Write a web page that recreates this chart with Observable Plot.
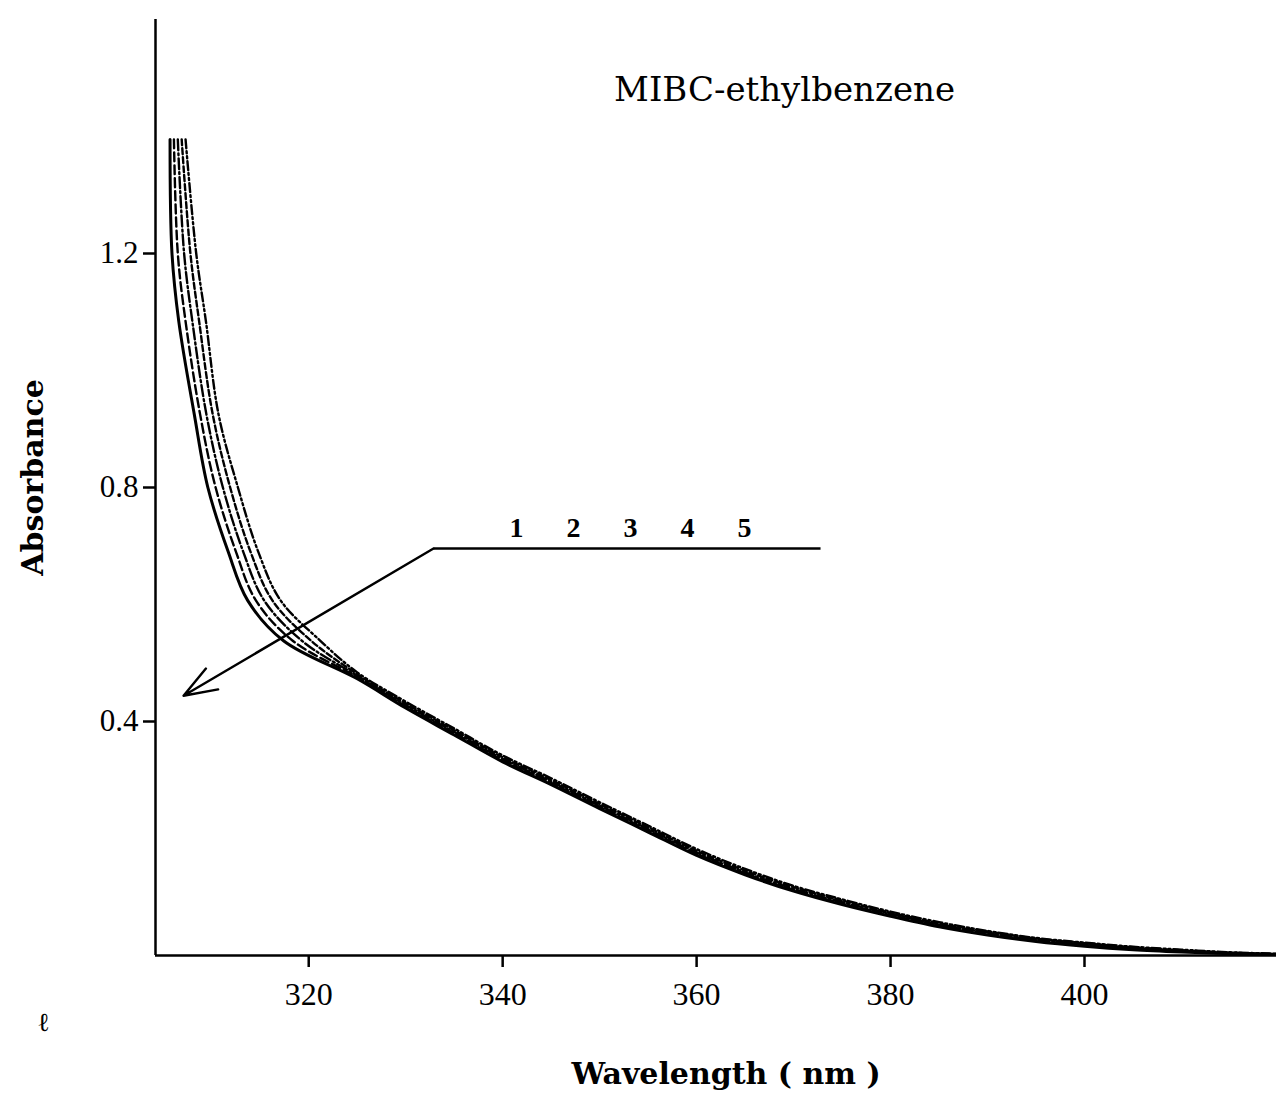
<!DOCTYPE html>
<html>
<head>
<meta charset="utf-8">
<script src="https://cdn.jsdelivr.net/npm/d3@7"></script>
<script src="https://cdn.jsdelivr.net/npm/@observablehq/plot@0.6"></script>
<style>
  body { margin: 0; background: #fff; }
</style>
</head>
<body>
<div id="chart"></div>
<script>
// ---- axes ----
const xDomain = [304.2, 419.8];
const yDomain = [0, 1.6];
const xTicks = [320, 340, 360, 380, 400];
const yTicks = [0.4, 0.8, 1.2];

// ---- steep part: wavelength (nm) at which each curve passes these absorbance levels ----
const absorbanceLevels = [1.395, 1.2, 1.084, 0.925, 0.80, 0.69, 0.607, 0.538];
const steepWl1 = [305.7, 305.9, 306.6, 308.2, 309.6, 311.7, 313.7, 317.4];
const steepWl2 = [306.1, 306.5, 307.3, 308.8, 310.4, 312.5, 314.55, 318.35];
const steepWl3 = [306.5, 307.15, 308.0, 309.45, 311.15, 313.25, 315.4, 319.3];
const steepWl4 = [306.9, 307.8, 308.7, 310.1, 311.9, 314.0, 316.25, 320.25];
const steepWl5 = [307.3, 308.4, 309.4, 310.7, 312.7, 314.8, 317.1, 321.2];

// ---- tail part: absorbance of each curve at shared wavelengths ----
const tailWavelength = [325, 330, 335, 340, 345, 350, 355, 360, 365, 370, 375, 380, 385, 390, 395, 400, 405, 410, 415, 420];
const tailAbs1 = [0.473, 0.423, 0.377, 0.331, 0.292, 0.251, 0.211, 0.171, 0.138, 0.110, 0.087, 0.067, 0.049, 0.035, 0.024, 0.016, 0.010, 0.006, 0.003, 0.001];
const tailAbs2 = [0.476, 0.426, 0.380, 0.334, 0.295, 0.254, 0.214, 0.174, 0.140, 0.112, 0.089, 0.069, 0.052, 0.038, 0.026, 0.018, 0.012, 0.0075, 0.0035, 0.0015];
const tailAbs3 = [0.478, 0.428, 0.382, 0.336, 0.297, 0.256, 0.216, 0.176, 0.142, 0.114, 0.091, 0.071, 0.053, 0.039, 0.027, 0.019, 0.0125, 0.008, 0.004, 0.002];
const tailAbs4 = [0.481, 0.431, 0.385, 0.339, 0.300, 0.259, 0.219, 0.179, 0.145, 0.117, 0.094, 0.073, 0.055, 0.041, 0.029, 0.021, 0.014, 0.009, 0.005, 0.0025];
const tailAbs5 = [0.484, 0.434, 0.388, 0.342, 0.303, 0.262, 0.222, 0.182, 0.148, 0.119, 0.096, 0.075, 0.057, 0.042, 0.030, 0.022, 0.015, 0.010, 0.0055, 0.003];

// ---- annotation (data coordinates) ----
const curveLabels = ["1", "2", "3", "4", "5"];
const curveLabelWl = [341.43, 347.31, 353.18, 359.06, 364.94];
const curveLabelAbs = 0.730;
const leaderLine = {x1: 332.87, x2: 372.78, y: 0.6957};
const arrowEnd = {x: 307.09, y: 0.444};
const titleText = "MIBC-ethylbenzene";
const titlePos = {x: 369.07, y: 1.479};
const xLabel = "Wavelength ( nm )";
const yLabel = "Absorbance";
const strayMark = {text: "ℓ", x: 292.65, y: -0.1145};

const dashes = [null, "9,4", "11,3,2,3", "6,3", "9,3,2,3,2,3"];
const widths = [3, 2.4, 2.4, 2.4, 2.4];
const steep = [steepWl1, steepWl2, steepWl3, steepWl4, steepWl5];
const tails = [tailAbs1, tailAbs2, tailAbs3, tailAbs4, tailAbs5];

function rows(wl, tail) {
  return [
    ...wl.map((w, i) => ({wavelength: w, absorbance: absorbanceLevels[i]})),
    ...tailWavelength.map((w, i) => ({wavelength: w, absorbance: tail[i]}))
  ];
}

const lineMarks = steep.map((wl, k) => Plot.line(rows(wl, tails[k]), {
  x: "wavelength", y: "absorbance", curve: "catmull-rom",
  stroke: "#000", strokeWidth: widths[k],
  strokeDasharray: dashes[k] || undefined, clip: true
}));

const serif = "'DejaVu Serif', serif";

const chart = Plot.plot({
  width: 1276,
  height: 1105,
  marginTop: 19,
  marginBottom: 150,
  marginLeft: 155,
  marginRight: 0,
  x: {domain: xDomain},
  y: {domain: yDomain},
  style: {fontFamily: "'Liberation Serif', serif", fontSize: "31px", background: "#fff", color: "#000", overflow: "visible"},
  marks: [
    Plot.axisX({ticks: xTicks, tickSize: 12, tickPadding: 15, strokeWidth: 2.5, label: null, tickFormat: d => String(d), fontSize: 32}),
    Plot.axisY({ticks: yTicks, tickSize: 12, tickPadding: 5, strokeWidth: 2.5, label: null, tickFormat: d => d.toFixed(1), fontSize: 31}),
    Plot.ruleX([xDomain[0]], {stroke: "#000", strokeWidth: 2.5}),
    Plot.ruleY([yDomain[0]], {stroke: "#000", strokeWidth: 2.5}),
    ...lineMarks,
    Plot.link([leaderLine], {x1: "x1", x2: "x2", y1: "y", y2: "y", stroke: "#000", strokeWidth: 2.4}),
    Plot.arrow([leaderLine], {x1: "x1", y1: "y", x2: () => arrowEnd.x, y2: () => arrowEnd.y, stroke: "#000", strokeWidth: 2.4, headLength: 22, headAngle: 40}),
    Plot.text(curveLabels, {x: (d, i) => curveLabelWl[i], y: () => curveLabelAbs, text: d => d, fontWeight: "bold", fontSize: 28, fontFamily: "'Liberation Serif', serif"}),
    Plot.text([titleText], {x: () => titlePos.x, y: () => titlePos.y, text: d => d, fontSize: 34, fontFamily: serif}),
    Plot.text([yLabel], {frameAnchor: "left", textAnchor: "middle", rotate: -90, dx: -122, dy: -10, text: d => d, fontSize: 30, fontWeight: "bold", fontFamily: serif}),
    Plot.text([xLabel], {frameAnchor: "bottom", dx: 10, dy: 128, text: d => d, fontSize: 30, fontWeight: "bold", fontFamily: serif}),
    Plot.text([strayMark], {x: "x", y: "y", text: "text", fontSize: 26, fontFamily: serif})
  ]
});

document.getElementById("chart").append(chart);
</script>
</body>
</html>
